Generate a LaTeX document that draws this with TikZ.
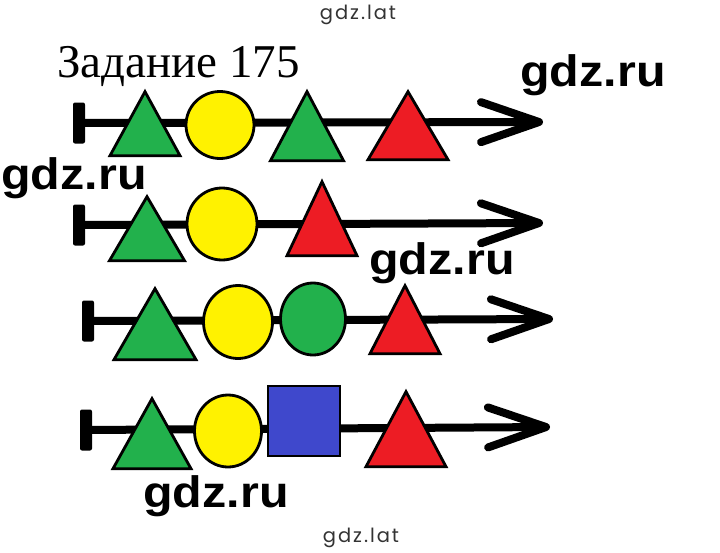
\documentclass[tikz,border=0pt]{standalone}
\usepackage{fontspec}
\setmainfont{Liberation Serif}
\newfontfamily\wmfont[FakeStretch=1.1]{Liberation Sans}
\newfontfamily\latfont[LetterSpace=10]{Poppins}
\usetikzlibrary{shapes.geometric}
\usetikzlibrary{arrows.meta}
\usetikzlibrary{positioning}
\definecolor{pgreen}{RGB}{34,177,76}
\definecolor{pyellow}{RGB}{255,242,0}
\definecolor{pred}{RGB}{237,28,36}
\definecolor{pblue}{RGB}{63,72,204}

\begin{document}
\begin{tikzpicture}[x=1pt, y=-1pt,
			startbar/.style={fill=black, rectangle, rounded corners=2pt, minimum width=12pt, minimum height=41pt, inner sep=0pt},
			axis/.style={line width=8pt, -{Straight Barb[length=58pt, width=40pt, round]}},
			tri/.style 2 args={draw, line width=2.8pt, isosceles triangle, isosceles triangle stretches, shape border rotate=90, anchor=apex, inner sep=0pt, minimum width=#1, minimum height=#2},
			oval/.style 2 args={draw, line width=2.8pt, ellipse, inner sep=0pt, minimum width=#1, minimum height=#2},
			wm/.style={anchor=base, inner sep=0pt, font=\wmfont\bfseries\fontsize{44}{44}\selectfont},
			lat/.style={anchor=base, inner sep=0pt, text=black!80, font=\latfont\fontsize{19.5}{19.5}\selectfont}]
			\useasboundingbox[fill=white] (0,0) rectangle (720,552);
			
			\node[lat](lat1) at (358,19) {gdz.lat};
			\node[anchor=base west, inner sep=0pt, font=\fontsize{47}{47}\selectfont](title) at (57,77) {Задание 175};
			\node[wm](wm1) at (593,86) {gdz.ru};
			
			\node[startbar](bar1) at (79,123) {};
			\coordinate (tip1) at (543,122);
			\draw[axis] (bar1.center) -- (tip1);
			\node[tri={70pt}{64pt}, fill=pgreen](tri11) at (145,88) {};
			\node[oval={68pt}{67pt}, fill=pyellow](oval12) at (220,125) {};
			\node[tri={73pt}{69pt}, fill=pgreen](tri13) at (307,88) {};
			\node[tri={80pt}{68pt}, fill=pred](tri14) at (408,88) {};
			
			\node[wm](wm2) at (74,189) {gdz.ru};
			
			\node[startbar](bar2) at (79,225) {};
			\coordinate (tip2) at (543,223);
			\draw[axis] (bar2.center) -- (tip2);
			\node[tri={75pt}{64pt}, fill=pgreen](tri21) at (147,193) {};
			\node[oval={70pt}{72pt}, fill=pyellow](oval22) at (222,224) {};
			\node[tri={70pt}{74pt}, fill=pred](tri23) at (322,178) {};
			
			\node[wm](wm3) at (442,274) {gdz.ru};
			
			\node[startbar](bar3) at (88,321) {};
			\coordinate (tip3) at (553,319);
			\draw[axis] (bar3.center) -- (tip3);
			\node[tri={82pt}{71pt}, fill=pgreen](tri31) at (155,285) {};
			\node[oval={69pt}{73pt}, fill=pyellow](oval32) at (238,322) {};
			\node[oval={65pt}{72pt}, fill=pgreen](oval33) at (313,319) {};
			\node[tri={70pt}{68pt}, fill=pred](tri34) at (405,282) {};
			
			\node[startbar](bar4) at (86,430) {};
			\coordinate (tip4) at (550,427);
			\draw[axis] (bar4.center) -- (tip4);
			\node[tri={78pt}{70pt}, fill=pgreen](tri41) at (152,395) {};
			\node[oval={67pt}{72pt}, fill=pyellow](oval42) at (228,431) {};
			\node[draw, line width=2.8pt, fill=pblue, minimum width=72pt, minimum height=70pt, inner sep=0pt](rect43) at (304,421) {};
			\node[tri={80pt}{75pt}, fill=pred](tri44) at (406,388) {};
			
			\node[wm](wm4) at (216,507) {gdz.ru};
			\node[lat](lat2) at (361,542) {gdz.lat};
		\end{tikzpicture}
\end{document}
